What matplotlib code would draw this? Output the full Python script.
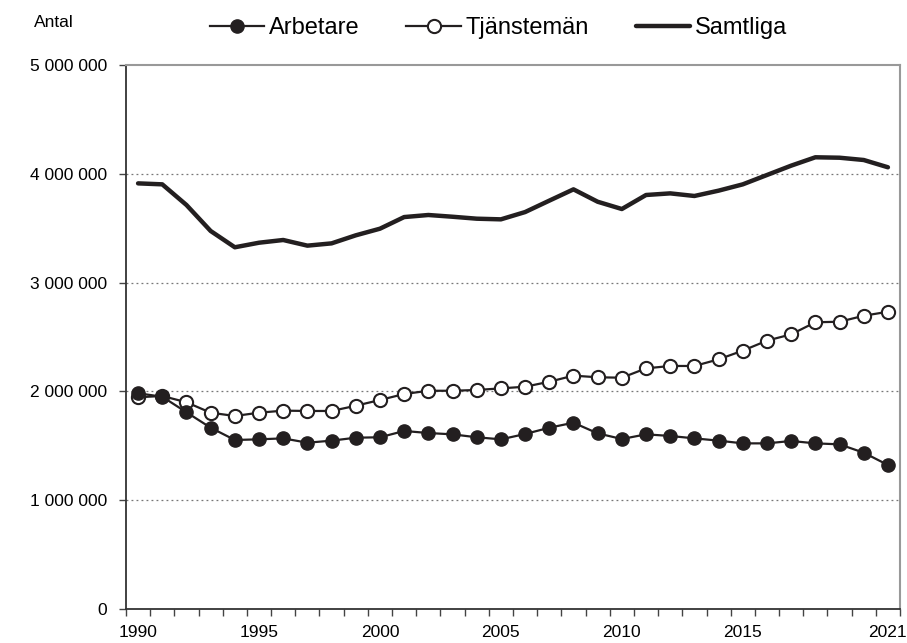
import numpy as np
import matplotlib.pyplot as plt
from matplotlib.ticker import FixedLocator, FuncFormatter

plt.rcParams['font.family'] = ['Liberation Sans', 'DejaVu Sans']

years = list(range(1990, 2022))

arbetare = [1983000, 1951000, 1808000, 1666000, 1553000, 1559000, 1568000, 1528000,
            1547000, 1574000, 1578000, 1636000, 1617000, 1605000, 1578000, 1559000,
            1608000, 1666000, 1712000, 1614000, 1562000, 1605000, 1590000, 1568000,
            1547000, 1522000, 1522000, 1544000, 1522000, 1513000, 1436000, 1323000]

tjansteman = [1946000, 1958000, 1900000, 1804000, 1774000, 1804000, 1823000, 1820000,
              1820000, 1868000, 1921000, 1976000, 2006000, 2006000, 2013000, 2028000,
              2043000, 2089000, 2145000, 2130000, 2126000, 2212000, 2234000, 2234000,
              2295000, 2375000, 2467000, 2525000, 2636000, 2641000, 2696000, 2733000]

samtliga = [3914000, 3905000, 3715000, 3476000, 3326000, 3368000, 3393000, 3341000,
            3362000, 3436000, 3497000, 3604000, 3623000, 3607000, 3589000, 3583000,
            3650000, 3755000, 3859000, 3745000, 3678000, 3807000, 3822000, 3798000,
            3847000, 3905000, 3991000, 4077000, 4154000, 4150000, 4129000, 4062000]

label_years = [1990, 1995, 2000, 2005, 2010, 2015, 2021]

ink = '#231f20'

fig = plt.figure(figsize=(9.07, 6.43), dpi=100)
ax = fig.add_axes([0.1389, 0.0532, 0.8534, 0.8452])

x = np.arange(len(years))

ax.plot(x, samtliga, color=ink, lw=3.2, solid_capstyle='round', label='Samtliga', zorder=3)
ax.plot(x, tjansteman, color=ink, lw=1.6, marker='o', ms=9.5, mfc='white',
        mec=ink, mew=1.5, label='Tjänstemän', zorder=4)
ax.plot(x, arbetare, color=ink, lw=1.6, marker='o', ms=9.5, mfc=ink,
        mec=ink, label='Arbetare', zorder=5)

ax.set_xlim(-0.5, len(years) - 0.5)
ax.set_ylim(0, 5000000)

# y axis
ax.set_yticks(np.arange(0, 5000001, 1000000))
ax.yaxis.set_major_formatter(FuncFormatter(lambda v, p: f'{int(v):,}'.replace(',', ' ')))
ax.tick_params(axis='y', direction='out', length=5, width=1, color='#444444',
               labelsize=12.5, pad=8.5, labelcolor='black')
for v in range(1000000, 5000000, 1000000):
    ax.axhline(v, color='#777777', lw=0.9, ls=(0, (1.5, 2.5)), zorder=1)

# x axis: ticks at category boundaries, labels at category centres
ax.xaxis.set_minor_locator(FixedLocator(np.arange(-0.5, len(years), 1.0)))
ax.set_xticks([years.index(y) for y in label_years])
ax.set_xticklabels([str(y) for y in label_years])
ax.tick_params(axis='x', which='major', length=0, labelsize=12.5, pad=12)
ax.tick_params(axis='x', which='minor', direction='out', length=5, width=1, color='#444444')

for side in ['left', 'bottom']:
    ax.spines[side].set_color('#333333')
    ax.spines[side].set_linewidth(1.3)
for side in ['top', 'right']:
    ax.spines[side].set_color('#999999')
    ax.spines[side].set_linewidth(1.5)

fig.text(0.038, 0.965, 'Antal', fontsize=12.5, ha='left', va='center')

handles, labels = ax.get_legend_handles_labels()
order = [2, 1, 0]
fig.legend([handles[i] for i in order], [labels[i] for i in order],
           loc='center', bbox_to_anchor=(0.5496, 0.956), ncol=3, frameon=False,
           fontsize=17, handlelength=2.3, handletextpad=0.2, columnspacing=2.0,
           markerscale=1.0)

fig.savefig('out.png', dpi=100)
